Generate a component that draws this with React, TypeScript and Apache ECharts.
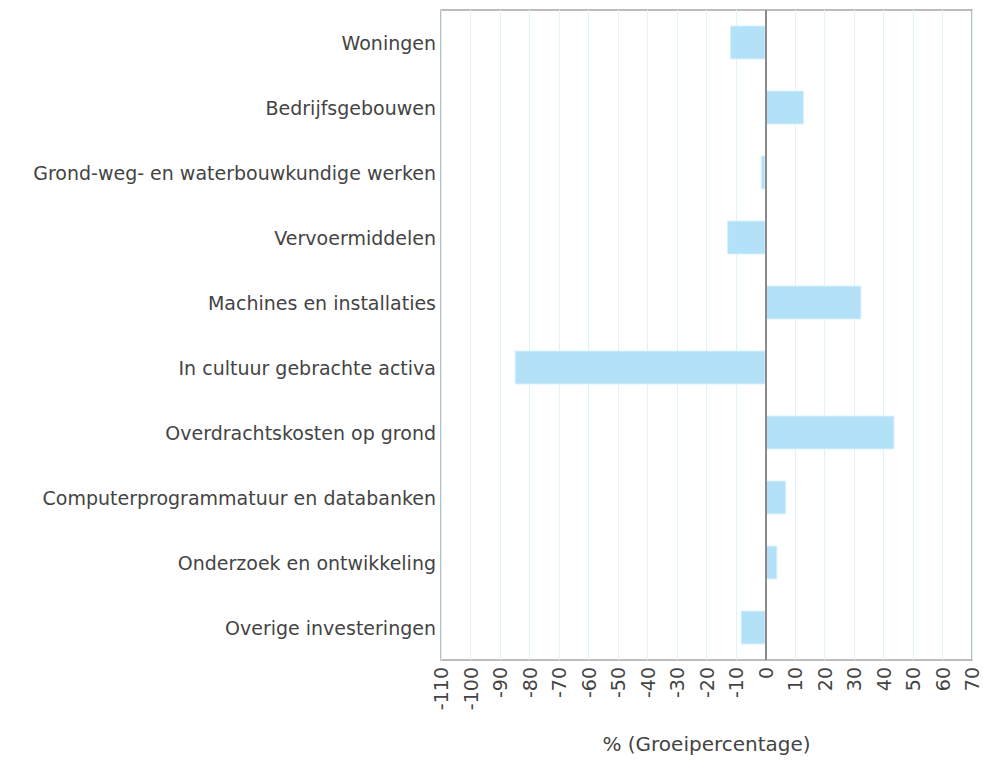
import React, { useEffect, useRef } from "react";
import * as echarts from "echarts";

const categories = [
  "Woningen",
  "Bedrijfsgebouwen",
  "Grond-weg- en waterbouwkundige werken",
  "Vervoermiddelen",
  "Machines en installaties",
  "In cultuur gebrachte activa",
  "Overdrachtskosten op grond",
  "Computerprogrammatuur en databanken",
  "Onderzoek en ontwikkeling",
  "Overige investeringen",
];
const values = [-12, 13, -1.6, -13, 32.5, -85, 43.7, 7, 4, -8.4];
const xMin = -110;
const xMax = 70;
const xStep = 10;
const axisName = "% (Groeipercentage)";

export default function App() {
  const ref = useRef<HTMLDivElement>(null);
  useEffect(() => {
    if (!ref.current) return;
    const chart = echarts.init(ref.current, undefined, { renderer: "svg" });
    const font = "DejaVu Sans, Verdana, sans-serif";
    chart.setOption({
      animation: false,
      grid: {
        left: 441,
        right: 11,
        top: 10,
        bottom: 100,
        show: true,
        borderColor: "#a6a6a6",
        borderWidth: 1.5,
        containLabel: false,
      },
      xAxis: {
        type: "value",
        min: xMin,
        max: xMax,
        interval: xStep,
        axisLine: { show: false },
        axisTick: { show: false },
        splitLine: { show: true, lineStyle: { color: "#dff3fb", width: 1 } },
        axisLabel: {
          rotate: 90,
          color: "#444",
          fontFamily: font,
          fontSize: 19,
          margin: 7,
        },
        name: axisName,
        nameLocation: "middle",
        nameGap: 74,
        nameTextStyle: { color: "#444", fontFamily: font, fontSize: 20 },
      },
      yAxis: {
        type: "category",
        data: categories,
        inverse: true,
        axisLine: { show: false, onZero: false },
        axisTick: { show: false },
        splitLine: { show: false },
        axisLabel: {
          color: "#444",
          fontFamily: font,
          fontSize: 19,
          margin: 5,
        },
      },
      series: [
        {
          type: "line",
          data: [],
          z: 1,
          markLine: {
            silent: true,
            symbol: "none",
            label: { show: false },
            lineStyle: { color: "#8a8a8a", width: 2, type: "solid" },
            data: [{ xAxis: 0 }],
          },
        },
        {
          type: "bar",
          data: values,
          z: 3,
          barWidth: "52%",
          itemStyle: {
            color: "#b3e1f7",
            borderColor: "#d2effb",
            borderWidth: 1,
          },
        },
      ],
    });
    return () => chart.dispose();
  }, []);
  return (
    <div
      ref={ref}
      style={{ position: "absolute", left: 0, top: 0, width: 983, height: 760 }}
    />
  );
}
